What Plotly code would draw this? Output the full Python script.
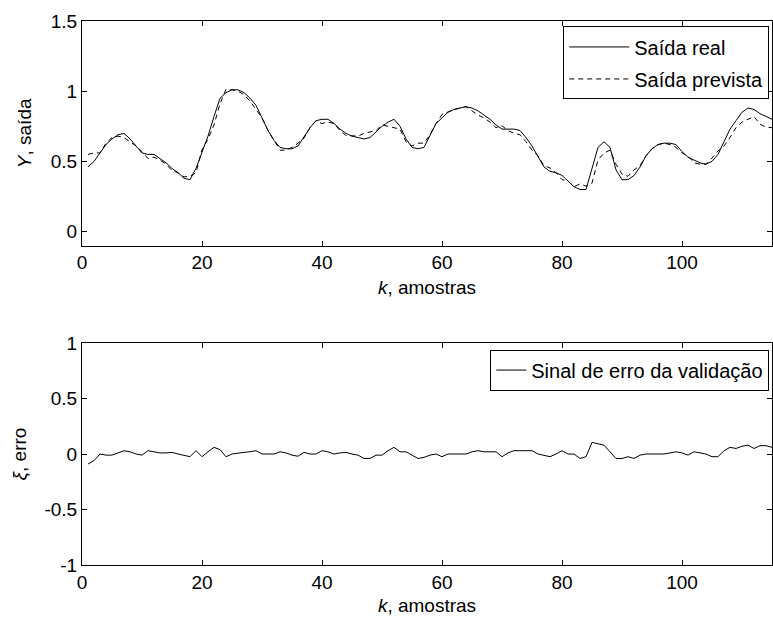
import plotly.graph_objects as go
from plotly.subplots import make_subplots

k = list(range(1, 116))

saida_real = [
    0.46, 0.50, 0.56, 0.62, 0.66, 0.69, 0.70, 0.66, 0.61, 0.56,
    0.55, 0.55, 0.52, 0.49, 0.45, 0.42, 0.38, 0.37, 0.45, 0.56,
    0.68, 0.82, 0.95, 0.99, 1.01, 1.01, 0.99, 0.95, 0.90, 0.81,
    0.72, 0.65, 0.60, 0.59, 0.59, 0.61, 0.68, 0.74, 0.79, 0.80,
    0.80, 0.77, 0.73, 0.70, 0.68, 0.67, 0.66, 0.67, 0.71, 0.75,
    0.78, 0.80, 0.75, 0.66, 0.60, 0.59, 0.60, 0.68, 0.77, 0.81,
    0.85, 0.87, 0.88, 0.89, 0.88, 0.86, 0.83, 0.80, 0.76, 0.73,
    0.73, 0.73, 0.72, 0.67, 0.61, 0.54, 0.46, 0.43, 0.42, 0.40,
    0.36, 0.32, 0.30, 0.30, 0.45, 0.60, 0.64, 0.60, 0.44, 0.37,
    0.37, 0.40, 0.46, 0.54, 0.59, 0.62, 0.63, 0.63, 0.62, 0.57,
    0.53, 0.51, 0.49, 0.48, 0.50, 0.55, 0.64, 0.73, 0.79, 0.85,
    0.88, 0.87, 0.84, 0.82, 0.80,
]

saida_prevista = [
    0.55, 0.56, 0.56, 0.63, 0.67, 0.68, 0.67, 0.64, 0.61, 0.57,
    0.52, 0.53, 0.51, 0.48, 0.435, 0.42, 0.39, 0.394, 0.42, 0.584,
    0.66, 0.76, 0.91, 1.014, 1.01, 1.00, 0.975, 0.93, 0.87, 0.81,
    0.72, 0.65, 0.58, 0.58, 0.60, 0.63, 0.665, 0.74, 0.79, 0.77,
    0.78, 0.77, 0.72, 0.685, 0.68, 0.68, 0.70, 0.71, 0.72, 0.76,
    0.75, 0.74, 0.73, 0.64, 0.61, 0.63, 0.63, 0.69, 0.77, 0.834,
    0.85, 0.87, 0.88, 0.89, 0.86, 0.83, 0.81, 0.78, 0.74, 0.754,
    0.72, 0.70, 0.69, 0.64, 0.58, 0.54, 0.47, 0.454, 0.42, 0.37,
    0.36, 0.32, 0.34, 0.324, 0.345, 0.51, 0.56, 0.58, 0.48, 0.41,
    0.394, 0.44, 0.47, 0.54, 0.59, 0.62, 0.63, 0.62, 0.60, 0.56,
    0.54, 0.49, 0.48, 0.48, 0.524, 0.574, 0.61, 0.67, 0.74, 0.78,
    0.80, 0.82, 0.765, 0.745, 0.74,
]

erro = [
    -0.09, -0.06, 0.00, -0.01, -0.01, 0.01, 0.03, 0.02, 0.00, -0.01,
    0.03, 0.02, 0.01, 0.01, 0.015, 0.00, -0.01, -0.024, 0.03, -0.024,
    0.02, 0.06, 0.04, -0.024, 0.00, 0.01, 0.015, 0.02, 0.03, 0.00,
    0.00, 0.00, 0.02, 0.01, -0.01, -0.02, 0.015, 0.00, 0.00, 0.03,
    0.02, 0.00, 0.01, 0.015, 0.00, -0.01, -0.04, -0.04, -0.01, -0.01,
    0.03, 0.06, 0.02, 0.02, -0.01, -0.04, -0.03, -0.01, 0.00, -0.024,
    0.00, 0.00, 0.00, 0.00, 0.02, 0.03, 0.02, 0.02, 0.02, -0.024,
    0.01, 0.03, 0.03, 0.03, 0.03, 0.00, -0.01, -0.024, 0.00, 0.03,
    0.00, 0.00, -0.04, -0.024, 0.105, 0.09, 0.08, 0.02, -0.04, -0.04,
    -0.024, -0.04, -0.01, 0.00, 0.00, 0.00, 0.00, 0.01, 0.02, 0.01,
    -0.01, 0.02, 0.01, 0.00, -0.024, -0.024, 0.03, 0.06, 0.05, 0.07,
    0.08, 0.05, 0.075, 0.075, 0.06,
]

x_ticks = [0, 20, 40, 60, 80, 100]
y1_ticks = [0, 0.5, 1, 1.5]
y1_ticktext = ["0", "0.5", "1", "1.5"]
y2_ticks = [-1, -0.5, 0, 0.5, 1]
y2_ticktext = ["-1", "-0.5", "0", "0.5", "1"]

FONT = "Liberation Sans, Arial, Helvetica, sans-serif"
FS = 19
tfont = dict(family=FONT, size=FS, color="black")
lfont = dict(family=FONT, size=20, color="black")

fig = make_subplots(rows=2, cols=1, vertical_spacing=0.18)

fig.add_trace(go.Scatter(x=k, y=saida_real, mode="lines", name="Saída real",
                         line=dict(color="black", width=1), legend="legend",
                         legendgroup="a"), row=1, col=1)
fig.add_trace(go.Scatter(x=k, y=saida_prevista, mode="lines", name="Saída prevista",
                         line=dict(color="black", width=1, dash="5px,4px"), legend="legend",
                         legendgroup="b"), row=1, col=1)
fig.add_trace(go.Scatter(x=k, y=erro, mode="lines", name="Sinal de erro da validação",
                         line=dict(color="black", width=1), legend="legend2"), row=2, col=1)

axis_common = dict(showline=True, linecolor="black", linewidth=1, mirror="allticks",
                   ticks="inside", ticklen=5, tickcolor="black", showgrid=False, zeroline=False,
                   tickfont=tfont)

fig.update_xaxes(range=[0, 115], tickvals=x_ticks, **axis_common)
fig.update_xaxes(title=dict(text="<i>k</i>, amostras", font=tfont, standoff=8), row=1, col=1)
fig.update_xaxes(title=dict(text="<i>k</i>, amostras", font=tfont, standoff=6), row=2, col=1)
fig.update_yaxes(range=[-0.1, 1.5], tickvals=y1_ticks, ticktext=y1_ticktext, row=1, col=1, **axis_common,
                 title=dict(text="<i>Y</i>, saída", font=tfont, standoff=14))
fig.update_yaxes(range=[-1, 1], tickvals=y2_ticks, ticktext=y2_ticktext, row=2, col=1, **axis_common,
                 title=dict(text="<i>ξ</i>, erro", font=tfont, standoff=12))

fig.update_layout(
    width=773, height=621,
    margin=dict(l=82, r=1, t=21, b=56),
    paper_bgcolor="white", plot_bgcolor="white",
    font=tfont,
    xaxis=dict(domain=[0, 1]),
    yaxis=dict(domain=[0.587, 1]),
    xaxis2=dict(domain=[0, 1]),
    yaxis2=dict(domain=[0, 0.408]),
    legend=dict(x=0.996, y=0.99, xanchor="right", yanchor="top", bgcolor="white",
                bordercolor="black", borderwidth=1, font=lfont, tracegroupgap=3,
                itemwidth=60),
    legend2=dict(x=0.996, y=0.396, xanchor="right", yanchor="top", bgcolor="white",
                 bordercolor="black", borderwidth=1, font=lfont, itemwidth=30),
    showlegend=True,
)

fig.write_html("out.html", config={"displayModeBar": False},
               post_script="document.body.style.margin='0';document.body.style.overflow='hidden';")
